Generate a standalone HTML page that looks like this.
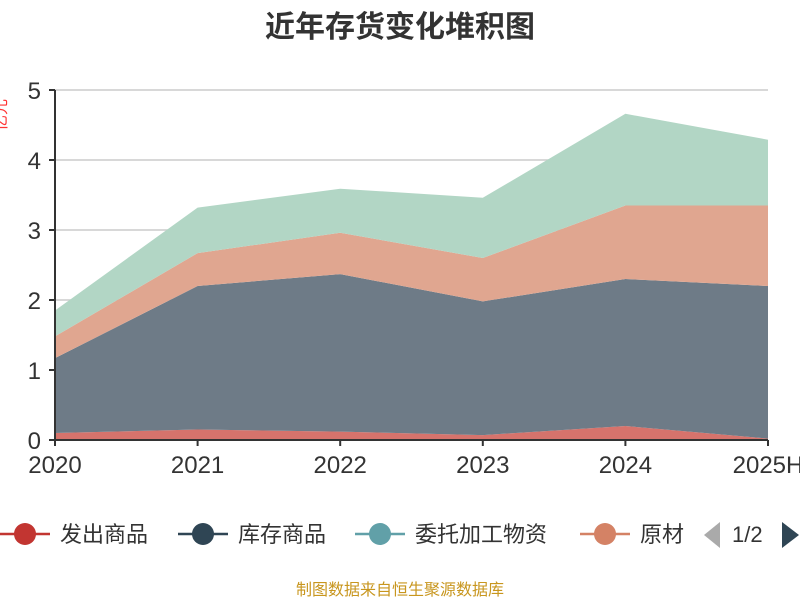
<!DOCTYPE html>
<html><head><meta charset="utf-8"><style>
body{margin:0;background:#fff;font-family:"Liberation Sans","Noto Sans CJK SC",sans-serif}
</style></head><body>
<svg id="c" width="800" height="600" xmlns="http://www.w3.org/2000/svg">
<text x="400" y="37" text-anchor="middle" font-size="30" font-weight="bold" fill="#333" font-family="Liberation Sans,Noto Sans CJK SC,sans-serif">近年存货变化堆积图</text>
<text transform="translate(6,115) rotate(-90)" text-anchor="middle" font-size="16" fill="#f33" font-family="Liberation Sans,Noto Sans CJK SC,sans-serif">亿元</text>
<g id="grid"></g><g id="areas"></g><g id="axes"></g>
<g id="legend" font-family="Liberation Sans,Noto Sans CJK SC,sans-serif" font-size="22" fill="#333"></g>
<text x="400" y="595" text-anchor="middle" font-size="16" fill="#c8961e" font-family="Liberation Sans,Noto Sans CJK SC,sans-serif">制图数据来自恒生聚源数据库</text>
</svg>
<script>
const categories=["2020","2021","2022","2023","2024","2025H"];
const faChu=[0.1,0.15,0.12,0.07,0.2,0.02];
const kuCun=[1.07,2.05,2.25,1.91,2.1,2.18];
const weiTuo=[0,0,0,0,0,0];
const yuanCai=[0.31,0.47,0.59,0.62,1.05,1.15];
const other=[0.37,0.65,0.63,0.86,1.31,0.94];
const yTicks=[0,1,2,3,4,5];
const series=[[faChu,"#d6736c","fa-chu-area"],[kuCun,"#6e7b87","ku-cun-area"],[weiTuo,"#90b8bd","wei-tuo-area"],[yuanCai,"#e0a690","yuan-cai-area"],[other,"#b2d6c5","other-area"]];
const NS="http://www.w3.org/2000/svg";
const x0=55,x1=768,yb=440,yt=90,ymax=5;
const X=i=>x0+i*(x1-x0)/(categories.length-1);
const Y=v=>yb-v*(yb-yt)/ymax;
function mk(t,a,p){const e=document.createElementNS(NS,t);for(const k in a)e.setAttribute(k,a[k]);document.getElementById(p).appendChild(e);return e;}
yTicks.forEach(v=>{
 if(v>0){const g=mk("line",{x1:x0,x2:x1,y1:Y(v),y2:Y(v),stroke:"#ccc","stroke-width":1.5},"grid");
 
 }
 const t=mk("text",{x:x0-14,y:Y(v)+9,"text-anchor":"end","font-size":24,fill:"#333"},"axes");t.textContent=v;
 
 
 mk("line",{x1:x0-6,x2:x0,y1:Y(v),y2:Y(v),stroke:"#333","stroke-width":2},"axes");
});
let base=categories.map(()=>0);
series.forEach(([vals,col,name])=>{
 const top=vals.map((v,i)=>base[i]+v);
 let d="M"+top.map((v,i)=>X(i)+","+Y(v)).join("L");
 for(let i=categories.length-1;i>=0;i--)d+="L"+X(i)+","+Y(base[i]);
 const p=mk("path",{d:d+"Z",fill:col},"areas");
 
 
 base=top;
});
mk("line",{x1:x0,x2:x0,y1:yt,y2:yb,stroke:"#333","stroke-width":2},"axes");
mk("line",{x1:x0,x2:x1,y1:yb,y2:yb,stroke:"#333","stroke-width":2},"axes");
categories.forEach((c,i)=>{
 mk("line",{x1:X(i),x2:X(i),y1:yb,y2:yb+6,stroke:"#333","stroke-width":2},"axes");
 const t=mk("text",{x:X(i),y:473,"text-anchor":"middle","font-size":24,fill:"#333"},"axes");t.textContent=c;
 
 
});
const leg=[["发出商品","#c23531",0],["库存商品","#2f4554",178],["委托加工物资","#61a0a8",355],["原材","#d48265",580]];
leg.forEach(([n,c,lx])=>{
 mk("line",{x1:lx,x2:lx+50,y1:534,y2:534,stroke:c,"stroke-width":2.5},"legend");
 const ci=mk("circle",{cx:lx+25,cy:534,r:11,fill:c},"legend");
 
 
 const t=mk("text",{x:lx+60,y:542},"legend");t.textContent=n;
 
 
});
const pl=mk("path",{d:"M720,522L704,535L720,548Z",fill:"#aaa"},"legend");


const pt=mk("text",{x:732,y:542},"legend");pt.textContent="1/2";


const pr=mk("path",{d:"M782,522L799,535L782,548Z",fill:"#2f4554"},"legend");


</script>
</body></html>
